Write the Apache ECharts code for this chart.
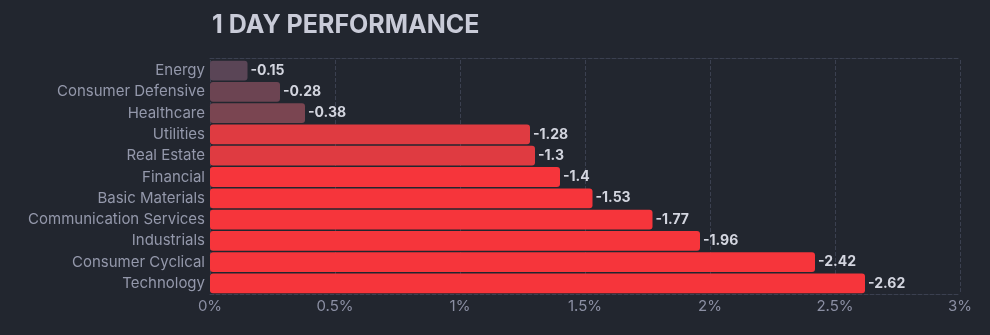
<!DOCTYPE html>
<html>
<head>
<meta charset="utf-8">
<script src="https://cdn.jsdelivr.net/npm/echarts@6/dist/echarts.min.js"></script>
<style>
  html, body { margin: 0; padding: 0; background: #22262f; }
  #chart { width: 990px; height: 335px; }
</style>
</head>
<body>
<div id="chart"></div>
<script>
// Sector one-day performance (%), top to bottom
const sectors = [
  'Energy', 'Consumer Defensive', 'Healthcare', 'Utilities', 'Real Estate',
  'Financial', 'Basic Materials', 'Communication Services', 'Industrials',
  'Consumer Cyclical', 'Technology'
];
const changes = [-0.15, -0.28, -0.38, -1.28, -1.3, -1.4, -1.53, -1.77, -1.96, -2.42, -2.62];
const tickLabels = ['0%', '0.5%', '1%', '1.5%', '2%', '2.5%', '3%'];

// Darker, muted tones for small moves, bright red for larger drops
function barColor(v) {
  const a = Math.abs(v);
  if (a < 0.2) return '#5a4556';
  if (a < 0.3) return '#6c4452';
  if (a < 0.5) return '#7a4551';
  if (a < 1.35) return '#df3b41';
  return '#f6353b';
}

const chart = echarts.init(document.getElementById('chart'));
const font = 'Inter, "Noto Sans", sans-serif';

chart.setOption({
  backgroundColor: '#22262f',
  animation: false,
  textStyle: { fontFamily: font },
  title: {
    text: '1 DAY PERFORMANCE',
    left: 207,
    top: 8,
    textStyle: { color: '#c9cbd8', fontSize: 25, fontWeight: 'bold', fontFamily: font }
  },
  grid: { left: 210, right: 30, top: 60, bottom: 41, containLabel: false },
  xAxis: [{
    type: 'value',
    min: 0, max: 3, interval: 0.5,
    axisLine: { show: true, lineStyle: { color: '#3b4050', type: 'dashed' } },
    axisTick: { show: false },
    axisLabel: {
      color: '#8b8fa3', fontSize: 15, margin: 5,
      formatter: (v) => tickLabels[Math.round(v / 0.5)]
    },
    splitLine: { show: true, lineStyle: { color: '#3b4050', type: 'dashed' } }
  }, {
    type: 'value',
    position: 'top',
    offset: 2,
    min: 0, max: 3, interval: 0.5,
    axisLine: { show: true, lineStyle: { color: '#3b4050', type: 'dashed' } },
    axisTick: { show: false },
    axisLabel: { show: false },
    splitLine: { show: false }
  }],
  yAxis: {
    type: 'category',
    inverse: true,
    data: sectors,
    axisLine: { show: false },
    axisTick: { show: false },
    axisLabel: { color: '#9498ab', fontSize: 15, margin: 5 }
  },
  series: [{
    type: 'bar',
    xAxisIndex: 0,
    data: changes.map(v => ({
      value: Math.abs(v),
      raw: v,
      itemStyle: { color: barColor(v) }
    })),
    barCategoryGap: '7%',
    itemStyle: { borderRadius: 3 },
    label: {
      show: true,
      position: 'right',
      distance: 3,
      color: '#d3d5df',
      fontSize: 14,
      fontWeight: 'bold',
      formatter: (p) => String(p.data.raw)
    }
  }]
});
</script>
</body>
</html>
